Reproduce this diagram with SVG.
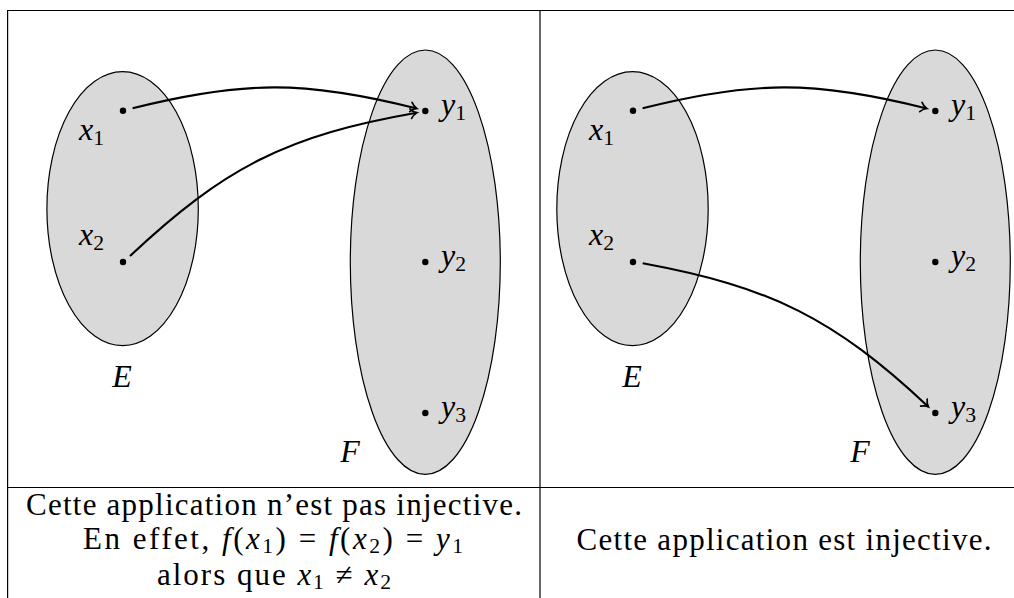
<svg xmlns="http://www.w3.org/2000/svg" width="1014" height="598" viewBox="0 0 1014 598">
<defs>
<style>
.set{fill:#d9d9d9;stroke:#000;stroke-width:1.2}
.dot{fill:#000}
.grid{stroke:#000;stroke-width:1.2;fill:none}
.arr{fill:none;stroke:#000;stroke-width:2.1;marker-end:url(#tip)}
.m{font-family:"Liberation Serif","DejaVu Serif",serif;font-style:italic;font-size:32px;fill:#000}
.t{font-family:"Liberation Serif","DejaVu Serif",serif;font-size:31px;fill:#000}
.i{font-style:italic}
.sub{font-style:normal;font-size:21.7px}
</style>
<marker id="tip" markerUnits="userSpaceOnUse" markerWidth="16" markerHeight="16" viewBox="-8 -8 16 16" refX="0" refY="0" orient="auto" overflow="visible">
<path d="M-6,-4.8 C-4,-2.2 -1.8,-0.6 0,0 C-1.8,0.6 -4,2.2 -6,4.8" fill="none" stroke="#000" stroke-width="1.7" stroke-linecap="round"/>
</marker>
</defs>
<rect width="1014" height="598" fill="#fff"/>
<g id="table" class="grid">
<line x1="7" y1="10.5" x2="1014" y2="10.5"/>
<line x1="7.6" y1="10" x2="7.6" y2="598"/>
<line x1="540" y1="10" x2="540" y2="598"/>
<line x1="7" y1="487.5" x2="1014" y2="487.5"/>
</g>
<g id="left-E"><ellipse class="set" cx="122.6" cy="208.7" rx="75.7" ry="137"/><text class="m" x="122" y="387" text-anchor="middle">E</text></g>
<g id="left-F"><ellipse class="set" cx="425.3" cy="262.2" rx="75" ry="212.2"/><text class="m" x="350" y="462" text-anchor="middle">F</text></g>
<g id="left-x1"><circle class="dot" cx="123" cy="110.7" r="3.2"/><text class="m" x="79" y="139.5">x<tspan class="sub" dy="5">1</tspan></text></g>
<g id="left-x2"><circle class="dot" cx="123" cy="262" r="3.2"/><text class="m" x="79" y="245">x<tspan class="sub" dy="5">2</tspan></text></g>
<g id="left-y1"><circle class="dot" cx="425.3" cy="111" r="3.2"/><text class="m" x="441" y="115">y<tspan class="sub" dy="5">1</tspan></text></g>
<g id="left-y2"><circle class="dot" cx="425.3" cy="262" r="3.2"/><text class="m" x="441" y="266">y<tspan class="sub" dy="5">2</tspan></text></g>
<g id="left-y3"><circle class="dot" cx="425.3" cy="413" r="3.2"/><text class="m" x="441" y="417">y<tspan class="sub" dy="5">3</tspan></text></g>
<g id="right-E"><ellipse class="set" cx="632.5" cy="208.7" rx="75.7" ry="137"/><text class="m" x="632" y="387" text-anchor="middle">E</text></g>
<g id="right-F"><ellipse class="set" cx="935.3" cy="262.2" rx="75" ry="212.2"/><text class="m" x="860" y="462" text-anchor="middle">F</text></g>
<g id="right-x1"><circle class="dot" cx="633" cy="110.7" r="3.2"/><text class="m" x="589" y="139.5">x<tspan class="sub" dy="5">1</tspan></text></g>
<g id="right-x2"><circle class="dot" cx="633" cy="262" r="3.2"/><text class="m" x="589" y="245">x<tspan class="sub" dy="5">2</tspan></text></g>
<g id="right-y1"><circle class="dot" cx="935.3" cy="111" r="3.2"/><text class="m" x="951" y="115">y<tspan class="sub" dy="5">1</tspan></text></g>
<g id="right-y2"><circle class="dot" cx="935.3" cy="262" r="3.2"/><text class="m" x="951" y="266">y<tspan class="sub" dy="5">2</tspan></text></g>
<g id="right-y3"><circle class="dot" cx="935.3" cy="413" r="3.2"/><text class="m" x="951" y="417">y<tspan class="sub" dy="5">3</tspan></text></g>
<g id="connectors">
<path class="arr" d="M132.6,108.3 C243.6,80.3 305.7,80.5 416.7,108.5"/>
<path class="arr" d="M130,256 C225,166.6 288.1,135.1 416.7,112.7"/>
<path class="arr" d="M642.6,108.3 C753.6,80.3 815.7,80.5 926.7,108.5"/>
<path class="arr" d="M642.7,263.3 C771.2,287 833.4,318 928.3,406.7"/>
</g>
<g id="captions">
<text class="t" x="274" y="515" text-anchor="middle" textLength="496" lengthAdjust="spacing">Cette application n’est pas injective.</text>
<text class="t" x="273" y="549" text-anchor="middle" textLength="380" lengthAdjust="spacing">En effet, <tspan class="i">f</tspan>(<tspan class="i">x</tspan><tspan class="sub" dy="4">1</tspan><tspan dy="-4">) = </tspan><tspan class="i">f</tspan>(<tspan class="i">x</tspan><tspan class="sub" dy="4">2</tspan><tspan dy="-4">) = </tspan><tspan class="i">y</tspan><tspan class="sub" dy="4">1</tspan></text>
<text class="t" x="274" y="585" text-anchor="middle" textLength="234" lengthAdjust="spacing">alors que <tspan class="i">x</tspan><tspan class="sub" dy="4">1</tspan><tspan dy="-4"> ≠ </tspan><tspan class="i">x</tspan><tspan class="sub" dy="4">2</tspan></text>
<text class="t" x="784" y="550" text-anchor="middle" textLength="415" lengthAdjust="spacing">Cette application est injective.</text>
</g>
</svg>
